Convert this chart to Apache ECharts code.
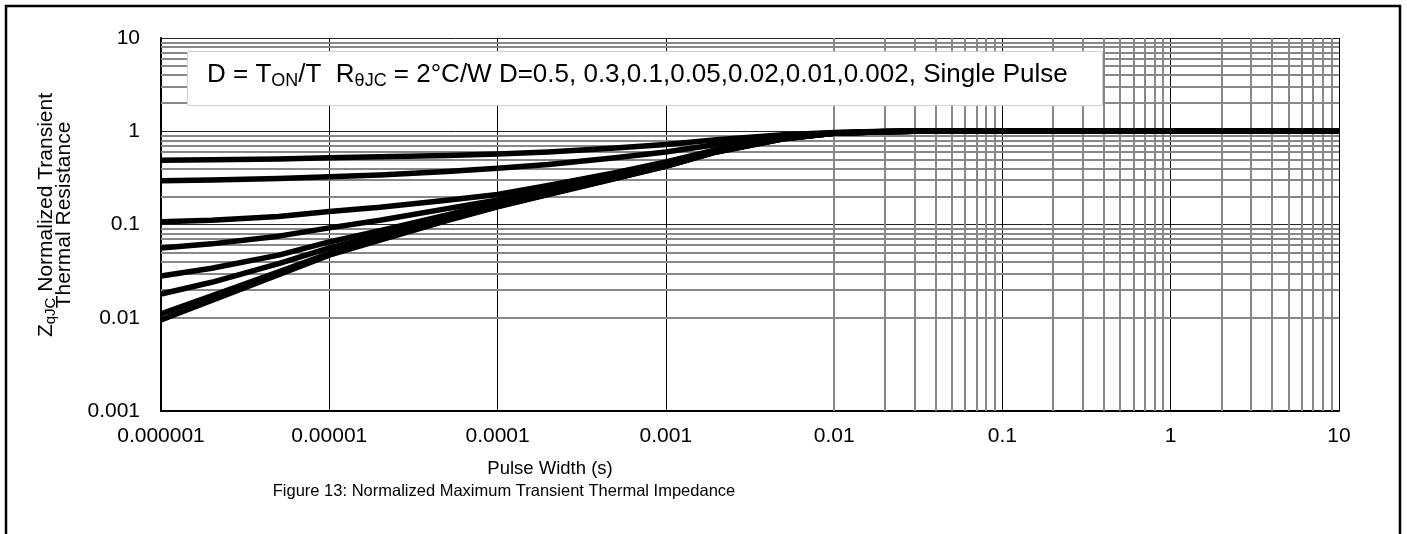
<!DOCTYPE html>
<html>
<head>
<meta charset="utf-8">
<script src="https://cdn.jsdelivr.net/npm/echarts@6/dist/echarts.min.js"></script>
<style>
html,body{margin:0;padding:0;background:#fff;}
#chart{width:1407px;height:534px;}
</style>
</head>
<body>
<div id="chart"></div>
<script>
// ---- data ----
const pulseWidths = [1e-6, 2e-6, 5e-6, 1e-5, 2e-5, 5e-5, 1e-4, 2e-4, 5e-4, 1e-3, 2e-3, 5e-3, 1e-2, 2e-2, 3e-2, 1e-1, 1, 10];
const zD05   = [0.49, 0.495, 0.505, 0.52, 0.533, 0.55, 0.57, 0.60, 0.66, 0.72, 0.81, 0.92, 0.97, 0.997, 1, 1, 1, 1];
const zD03   = [0.295, 0.30, 0.311, 0.326, 0.34, 0.37, 0.40, 0.44, 0.52, 0.60, 0.72, 0.885, 0.962, 0.995, 1, 1, 1, 1];
const zD01   = [0.107, 0.111, 0.122, 0.138, 0.153, 0.182, 0.21, 0.262, 0.36, 0.468, 0.635, 0.85, 0.955, 0.992, 1, 1, 1, 1];
const zD005  = [0.056, 0.062, 0.075, 0.092, 0.111, 0.148, 0.183, 0.238, 0.34, 0.445, 0.618, 0.84, 0.953, 0.99, 1, 1, 1, 1];
const zD002  = [0.028, 0.034, 0.047, 0.065, 0.086, 0.127, 0.171, 0.225, 0.323, 0.43, 0.607, 0.835, 0.951, 0.99, 1, 1, 1, 1];
const zD001  = [0.018, 0.024, 0.038, 0.056, 0.077, 0.119, 0.163, 0.218, 0.317, 0.426, 0.604, 0.833, 0.95, 0.99, 1, 1, 1, 1];
const zD0002 = [0.011, 0.0172, 0.031, 0.049, 0.07, 0.112, 0.157, 0.212, 0.312, 0.422, 0.60, 0.83, 0.95, 0.99, 1, 1, 1, 1];
const zSingle= [0.0095, 0.0153, 0.029, 0.047, 0.068, 0.11, 0.155, 0.21, 0.31, 0.42, 0.60, 0.83, 0.95, 0.99, 1, 1, 1, 1];
const seriesNames = ['D=0.5','D=0.3','D=0.1','D=0.05','D=0.02','D=0.01','D=0.002','Single Pulse'];
const seriesValues = [zD05, zD03, zD01, zD005, zD002, zD001, zD0002, zSingle];

const xTickLabels = ['0.000001','0.00001','0.0001','0.001','0.01','0.1','1','10'];
const yTickLabels = ['0.001','0.01','0.1','1','10'];
const xDecadeExponents = [-6,-5,-4,-3,-2,-1,0];
const yDecadeExponents = [-3,-2,-1,0];
const minorMultipliers = [2,3,4,5,6,7,8,9];

const FONT = '"Liberation Sans", Arial, sans-serif';

// minor grid positions (2..9 within each decade)
const gridLines = [];
xDecadeExponents.forEach(e => minorMultipliers.forEach(m => gridLines.push({xAxis: +(m * Math.pow(10, e)).toPrecision(3)})));
yDecadeExponents.forEach(e => minorMultipliers.forEach(m => gridLines.push({yAxis: +(m * Math.pow(10, e)).toPrecision(3)})));

const chart = echarts.init(document.getElementById('chart'), null, {renderer: 'canvas'});

const series = seriesValues.map((vals, i) => ({
  name: seriesNames[i],
  type: 'line',
  data: pulseWidths.map((x, j) => [x, vals[j]]),
  showSymbol: false,
  smooth: false,
  lineStyle: {color: '#000', width: 5.5, join: 'round'},
  z: 10,
  silent: true
}));

series.unshift({
  name: 'grid',
  type: 'line',
  data: [[1e-6, 0.001]],
  showSymbol: false,
  lineStyle: {width: 0},
  z: 1,
  silent: true,
  markLine: {
    z: 1,
    silent: true,
    symbol: ['none', 'none'],
    label: {show: false},
    lineStyle: {color: '#888', width: 2, type: 'solid'},
    emphasis: {disabled: true},
    animation: false,
    data: gridLines
  }
});

function labelFor(labels, startExp) {
  return function (v) {
    const e = Math.round(Math.log10(v));
    return labels[e - startExp] !== undefined ? labels[e - startExp] : '';
  };
}

chart.setOption({
  animation: false,
  backgroundColor: '#fff',
  grid: {left: 161, right: 68, top: 38, bottom: 123, containLabel: false},
  xAxis: {
    type: 'log', logBase: 10, min: 1e-6, max: 10,
    axisLine: {show: true, lineStyle: {color: '#000', width: 2}},
    axisTick: {show: false},
    axisLabel: {color: '#000', fontSize: 21, fontFamily: FONT, margin: 15, formatter: labelFor(xTickLabels, -6)},
    splitLine: {show: true, lineStyle: {color: '#000', width: 1}},
    minorTick: {show: false}, minorSplitLine: {show: false}
  },
  yAxis: {
    type: 'log', logBase: 10, min: 0.001, max: 10,
    axisLine: {show: true, lineStyle: {color: '#000', width: 2}},
    axisTick: {show: false},
    axisLabel: {color: '#000', fontSize: 21, fontFamily: FONT, margin: 21, formatter: labelFor(yTickLabels, -3)},
    splitLine: {show: true, lineStyle: {color: '#222', width: 1}}
  },
  graphic: [
    {type: 'rect', z: 100, silent: true,
     shape: {x: 6, y: 6, width: 1394, height: 600},
     style: {fill: 'none', stroke: '#000', lineWidth: 2.5}},
    {type: 'rect', z: 3, silent: true,
     shape: {x: 187.5, y: 51.5, width: 915, height: 54},
     style: {fill: '#fff', stroke: '#d0d0d0', lineWidth: 1}},
    {type: 'text', z: 20, silent: true, left: 207, top: 62,
     style: {
       text: 'D = T{sub|ON}/T  R{sub|θJC} = 2°C/W D=0.5, 0.3,0.1,0.05,0.02,0.01,0.002, Single Pulse',
       font: '26px ' + FONT, fill: '#000',
       rich: {sub: {fontSize: 18, fontFamily: FONT, padding: [13, 0, 0, 0], verticalAlign: 'bottom'}}
     }},
    {type: 'text', z: 20, silent: true, x: 46, y: 215, rotation: Math.PI / 2,
     style: {
       text: 'Z{sub|qJC} Normalized Transient',
       font: '21px ' + FONT, fill: '#000', align: 'center', verticalAlign: 'middle',
       rich: {sub: {fontSize: 15, fontFamily: FONT, padding: [10, 0, 0, 0], verticalAlign: 'bottom'}}
     }},
    {type: 'text', z: 20, silent: true, x: 64, y: 215, rotation: Math.PI / 2,
     style: {text: 'Thermal Resistance', font: '21px ' + FONT, fill: '#000', align: 'center', verticalAlign: 'middle'}},
    {type: 'text', z: 20, silent: true, x: 550, y: 469,
     style: {text: 'Pulse Width (s)', font: '18.5px ' + FONT, fill: '#000', align: 'center', verticalAlign: 'middle'}},
    {type: 'text', z: 20, silent: true, x: 504, y: 491,
     style: {text: 'Figure 13: Normalized Maximum Transient Thermal Impedance', font: '16.5px ' + FONT, fill: '#000', align: 'center', verticalAlign: 'middle'}}
  ],
  series: series
});
</script>
</body>
</html>
